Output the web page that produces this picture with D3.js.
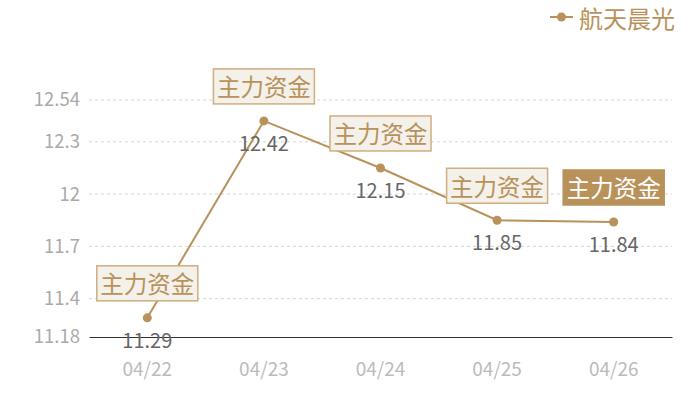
<!DOCTYPE html>
<html>
<head>
<meta charset="utf-8">
<script src="https://cdn.jsdelivr.net/npm/d3@7"></script>
<style>
  html, body { margin: 0; padding: 0; background: #fff; }
  svg { display: block; font-family: 'Noto Sans CJK SC', 'Noto Sans', sans-serif; }
</style>
</head>
<body>
<div id="chart"></div>
<script>
// Data
const dates = ['04/22', '04/23', '04/24', '04/25', '04/26'];
const prices = [11.29, 12.42, 12.15, 11.85, 11.84];
const yTicks = [11.18, 11.4, 11.7, 12, 12.3, 12.54];
const seriesName = '航天晨光';
const markText = '主力资金';
const activeMark = 4; // the last marker is highlighted

const W = 700, H = 400;
const GOLD = '#b8925a';
const margin = { left: 89, right: 28, top: 100, bottom: 63 };

const svg = d3.select('#chart').append('svg')
  .attr('width', W).attr('height', H);

const x = d3.scaleBand()
  .domain(dates)
  .range([margin.left, W - margin.right]);

const y = d3.scaleLinear()
  .domain([yTicks[0], yTicks[yTicks.length - 1]])
  .range([H - margin.bottom, margin.top]);

const px = d => x(d) + x.bandwidth() / 2;

// ── Grid lines ────────────────────────────────────────────────────────────
svg.append('g')
  .selectAll('line')
  .data(yTicks.slice(1))
  .enter().append('line')
  .attr('x1', margin.left).attr('x2', W - margin.right)
  .attr('y1', d => y(d)).attr('y2', d => y(d))
  .attr('stroke', '#d4d4d4')
  .attr('stroke-dasharray', '3 3');

// Y axis labels
const yAxis = svg.append('g')
  .attr('transform', `translate(${margin.left},0)`)
  .call(d3.axisLeft(y).tickValues(yTicks).tickSize(0).tickPadding(9).tickFormat(d => d));
yAxis.select('.domain').remove();
yAxis.selectAll('text')
  .attr('font-size', '18.5px')
  .attr('fill', '#aaa')
  .attr('font-family', "'Noto Sans CJK SC', sans-serif");

// X axis
const xAxis = svg.append('g')
  .attr('transform', `translate(0,${H - margin.bottom})`)
  .call(d3.axisBottom(x).tickSize(0).tickPadding(26));
xAxis.select('.domain')
  .attr('stroke', '#333')
  .attr('stroke-width', 1);
xAxis.selectAll('text')
  .attr('font-size', '19px')
  .attr('fill', '#bbb')
  .attr('font-family', "'Noto Sans CJK SC', sans-serif");

// ── Line ─────────────────────────────────────────────────────────────────
const pts = dates.map((d, i) => ({ date: d, v: prices[i], i }));

svg.append('path')
  .datum(pts)
  .attr('fill', 'none')
  .attr('stroke', GOLD)
  .attr('stroke-width', 2)
  .attr('d', d3.line().x(d => px(d.date)).y(d => y(d.v)));

svg.selectAll('circle.pt')
  .data(pts).enter()
  .append('circle')
  .attr('class', 'pt')
  .attr('cx', d => px(d.date))
  .attr('cy', d => y(d.v))
  .attr('r', 4.5)
  .attr('fill', GOLD);

// Value labels below points
svg.selectAll('text.val')
  .data(pts).enter()
  .append('text')
  .attr('class', 'val')
  .attr('x', d => px(d.date))
  .attr('y', d => y(d.v) + 30)
  .attr('text-anchor', 'middle')
  .attr('font-size', '20px')
  .attr('fill', '#666')
  .text(d => d.v.toFixed(2));

// ── "主力资金" markers above points ─────────────────────────────────────
const BW = 101, BH = 35;
const marks = svg.selectAll('g.mark')
  .data(pts).enter()
  .append('g')
  .attr('class', 'mark')
  .attr('transform', d => `translate(${px(d.date)},${y(d.v) - 17 - BH / 2})`);

marks.append('rect')
  .attr('x', -BW / 2).attr('y', -BH / 2)
  .attr('width', BW).attr('height', BH)
  .attr('fill', d => d.i === activeMark ? GOLD : '#f4f0ea')
  .attr('stroke', d => d.i === activeMark ? GOLD : '#cfae7f')
  .attr('stroke-width', 1.5);

marks.append('text')
  .attr('text-anchor', 'middle')
  .attr('dominant-baseline', 'central')
  .attr('font-size', '23.5px')
  .attr('fill', d => d.i === activeMark ? '#fff' : GOLD)
  .text(markText);

// ── Legend ───────────────────────────────────────────────────────────────
const lg = svg.append('g').attr('transform', 'translate(550,17)');
lg.append('line')
  .attr('x1', 0).attr('x2', 23)
  .attr('stroke', GOLD).attr('stroke-width', 2);
lg.append('circle')
  .attr('cx', 11.5).attr('r', 4.5)
  .attr('fill', GOLD);
lg.append('text')
  .attr('x', 29)
  .attr('dominant-baseline', 'central')
  .attr('font-size', '24px')
  .attr('fill', GOLD)
  .text(seriesName);
</script>
</body>
</html>
